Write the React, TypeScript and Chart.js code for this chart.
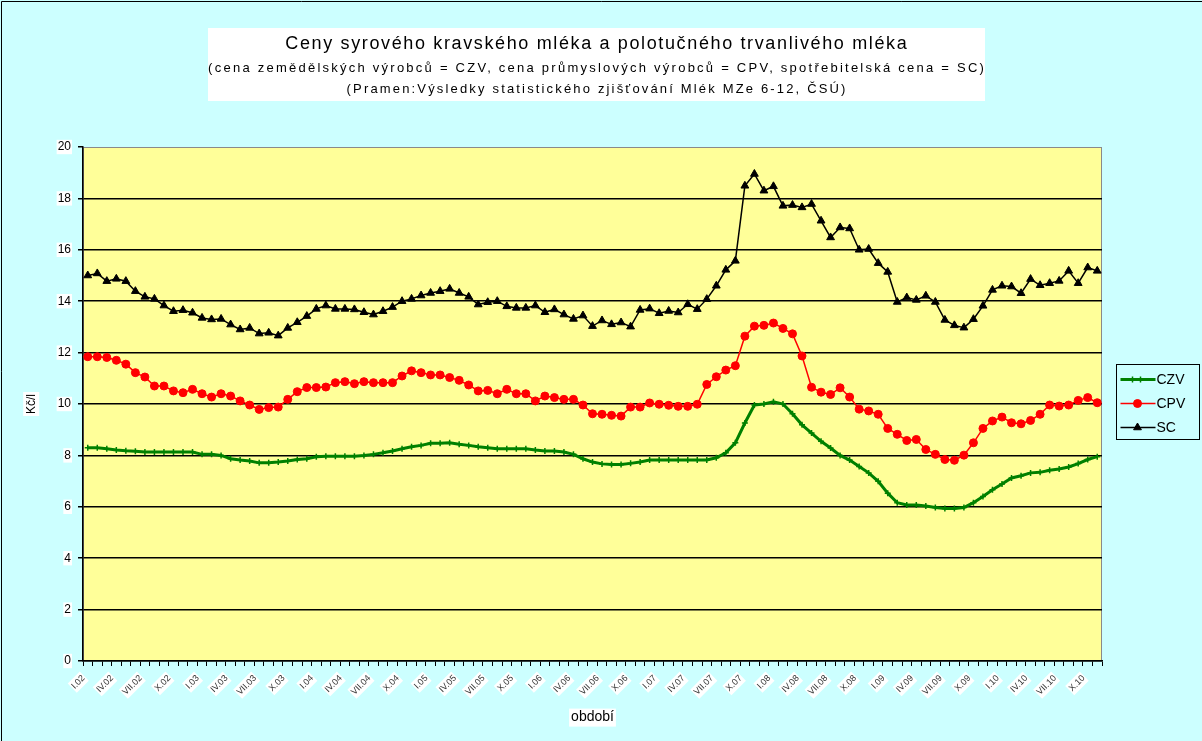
import React, { useEffect, useRef } from 'react';
import { Chart, registerables } from 'chart.js';
import { drawPoint } from 'chart.js/helpers';

Chart.register(...registerables);

const FONT = '"Liberation Sans", Arial, sans-serif';

const MONTHS = ['I', 'II', 'III', 'IV', 'V', 'VI', 'VII', 'VIII', 'IX', 'X', 'XI', 'XII'];
const YEARS = ['02', '03', '04', '05', '06', '07', '08', '09', '10'];
const PERIOD_COUNT = 107; // I.02 .. XI.10
const PERIODS = YEARS.flatMap((y) => MONTHS.map((m) => `${m}.${y}`)).slice(0, PERIOD_COUNT);

const CZV = [
  8.3, 8.3, 8.26, 8.21, 8.18, 8.16, 8.13, 8.13, 8.13, 8.13, 8.13, 8.13,
  8.04, 8.04, 8.0, 7.87, 7.82, 7.78, 7.71, 7.71, 7.74, 7.78, 7.84, 7.87,
  7.95, 7.97, 7.97, 7.97, 7.97, 8.0, 8.04, 8.1, 8.17, 8.26, 8.34, 8.39,
  8.47, 8.47, 8.49, 8.43, 8.39, 8.34, 8.3, 8.26, 8.26, 8.26, 8.26, 8.21,
  8.17, 8.17, 8.13, 8.04, 7.87, 7.74, 7.67, 7.65, 7.65, 7.69, 7.74, 7.82,
  7.82, 7.82, 7.82, 7.82, 7.82, 7.82, 7.91, 8.1, 8.49, 9.26, 9.96, 10.0,
  10.09, 10.0, 9.62, 9.19, 8.87, 8.55, 8.29, 8.0, 7.82, 7.57, 7.32, 6.99,
  6.53, 6.16, 6.07, 6.07, 6.03, 5.97, 5.93, 5.93, 5.97, 6.16, 6.4, 6.66,
  6.89, 7.12, 7.21, 7.32, 7.34, 7.42, 7.47, 7.55, 7.68, 7.84, 7.95,
];

const CPV = [
  11.84, 11.84, 11.81, 11.7, 11.55, 11.22, 11.05, 10.7, 10.7, 10.51, 10.44, 10.57,
  10.4, 10.27, 10.4, 10.31, 10.12, 9.96, 9.79, 9.86, 9.88, 10.18, 10.48, 10.64,
  10.64, 10.66, 10.83, 10.87, 10.79, 10.87, 10.83, 10.83, 10.83, 11.09, 11.29, 11.22,
  11.13, 11.13, 11.03, 10.92, 10.74, 10.51, 10.53, 10.4, 10.57, 10.4, 10.4, 10.12,
  10.31, 10.25, 10.18, 10.18, 9.96, 9.62, 9.6, 9.56, 9.53, 9.88, 9.88, 10.04,
  9.99, 9.95, 9.91, 9.91, 9.99, 10.76, 11.06, 11.32, 11.49, 12.64, 13.03, 13.06,
  13.15, 12.94, 12.73, 11.87, 10.65, 10.46, 10.37, 10.63, 10.27, 9.8, 9.73, 9.6,
  9.05, 8.82, 8.58, 8.62, 8.23, 8.04, 7.84, 7.81, 8.01, 8.49, 9.05, 9.34,
  9.49, 9.27, 9.23, 9.36, 9.6, 9.96, 9.92, 9.96, 10.14, 10.25, 10.05,
];

const SC = [
  15.0, 15.08, 14.78, 14.87, 14.78, 14.39, 14.17, 14.09, 13.83, 13.61, 13.65, 13.55,
  13.35, 13.29, 13.31, 13.09, 12.9, 12.96, 12.74, 12.77, 12.66, 12.96, 13.18, 13.42,
  13.7, 13.83, 13.7, 13.7, 13.68, 13.57, 13.48, 13.61, 13.77, 14.0, 14.09, 14.22,
  14.32, 14.39, 14.48, 14.32, 14.17, 13.87, 13.96, 14.0, 13.8, 13.74, 13.74, 13.83,
  13.57, 13.68, 13.48, 13.31, 13.44, 13.03, 13.25, 13.1, 13.17, 13.01, 13.66, 13.71,
  13.53, 13.62, 13.56, 13.88, 13.69, 14.08, 14.6, 15.22, 15.57, 18.49, 18.95, 18.3,
  18.47, 17.71, 17.74, 17.65, 17.78, 17.13, 16.48, 16.87, 16.83, 16.0, 16.03, 15.48,
  15.14, 13.97, 14.14, 14.05, 14.21, 13.97, 13.27, 13.06, 12.97, 13.3, 13.82, 14.44,
  14.6, 14.57, 14.31, 14.86, 14.62, 14.7, 14.79, 15.18, 14.7, 15.31, 15.18,
];

const SERIES_NAMES = ['CZV', 'CPV', 'SC'];
const TITLE_LINES = [
  'Ceny syrového kravského mléka a polotučného trvanlivého mléka',
  '(cena zemědělských výrobců = CZV, cena průmyslových výrobců = CPV, spotřebitelská cena = SC)',
  '(Pramen:Výsledky statistického zjišťování Mlék MZe 6-12, ČSÚ)',
];
const X_TITLE = 'období';
const Y_TITLE = 'Kč/l';
const Y_MIN = 0;
const Y_MAX = 20;
const Y_STEP = 2;
const LABEL_EVERY = 3;

const BG = '#CCFFFF';
const PLOT_BG = '#FFFF99';

function fitText(ctx: CanvasRenderingContext2D, text: string, cx: number, cy: number, font: string, target: number) {
  ctx.font = font;
  (ctx as any).letterSpacing = '0px';
  const w = ctx.measureText(text).width;
  const ls = Math.max(0, (target - w) / text.length);
  (ctx as any).letterSpacing = ls + 'px';
  ctx.textAlign = 'center';
  ctx.textBaseline = 'middle';
  ctx.fillText(text, cx + ls / 2, cy);
  (ctx as any).letterSpacing = '0px';
}

const decorPlugin = {
  id: 'decor',
  beforeDraw(chart: any) {
    const { ctx, chartArea: ca, width, height } = chart;
    ctx.save();
    ctx.fillStyle = BG;
    ctx.fillRect(0, 0, width, height);
    ctx.strokeStyle = '#000';
    ctx.lineWidth = 1;
    ctx.beginPath();
    ctx.moveTo(1.5, height);
    ctx.lineTo(1.5, 1.5);
    ctx.lineTo(width, 1.5);
    ctx.stroke();

    ctx.fillStyle = PLOT_BG;
    ctx.fillRect(ca.left, ca.top, ca.right - ca.left, ca.bottom - ca.top);
    ctx.strokeStyle = '#8a8a8a';
    ctx.strokeRect(ca.left + 0.5, ca.top + 0.5, ca.right - ca.left - 1, ca.bottom - ca.top - 1);

    // title box
    ctx.fillStyle = '#fff';
    ctx.fillRect(208, 28, 777, 73);

    // white boxes behind axis titles
    ctx.font = `14px ${FONT}`;
    const xs = chart.scales.x;
    const xw = ctx.measureText(X_TITLE).width;
    const xcx = (xs.left + xs.right) / 2;
    const xcy = xs.bottom - 8.4 - 4;
    ctx.fillRect(xcx - xw / 2 - 2, xcy - 9, xw + 4, 18);
    ctx.font = `12px ${FONT}`;
    const ys = chart.scales.y;
    const yw = ctx.measureText(Y_TITLE).width;
    const ycx = ys.left + 7.2 + 4;
    const ycy = (ys.top + ys.bottom) / 2;
    ctx.fillRect(ycx - 8, ycy - yw / 2 - 2, 16, yw + 4);
    ctx.restore();
  },
  afterDraw(chart: any) {
    const { ctx, chartArea: ca } = chart;
    ctx.save();
    ctx.fillStyle = '#000';
    fitText(ctx, TITLE_LINES[0], 596, 44, `18px ${FONT}`, 623);
    fitText(ctx, TITLE_LINES[1], 596, 68, `13px ${FONT}`, 778);
    fitText(ctx, TITLE_LINES[2], 596, 89, `13px ${FONT}`, 501);

    // legend
    const lx = ca.right + 14.5;
    const ly = 364.5;
    const lw = 83;
    const lh = 75;
    ctx.fillStyle = BG;
    ctx.fillRect(lx, ly, lw, lh);
    ctx.strokeStyle = '#000';
    ctx.lineWidth = 1;
    ctx.strokeRect(lx, ly, lw, lh);
    chart.data.datasets.forEach((ds: any, i: number) => {
      const y = ly + 15 + i * 24;
      ctx.strokeStyle = ds.borderColor;
      ctx.lineWidth = ds.borderWidth;
      ctx.beginPath();
      ctx.moveTo(lx + 4, y);
      ctx.lineTo(lx + 39, y);
      ctx.stroke();
      ctx.fillStyle = ds.pointBackgroundColor;
      ctx.strokeStyle = ds.pointBorderColor;
      ctx.lineWidth = ds.pointBorderWidth;
      if (ds.pointStyle === 'cross') {
        drawPoint(ctx, { pointStyle: 'cross', radius: ds.pointRadius, rotation: 0, borderWidth: ds.pointBorderWidth }, lx + 16, y);
        drawPoint(ctx, { pointStyle: 'cross', radius: ds.pointRadius, rotation: 0, borderWidth: ds.pointBorderWidth }, lx + 24, y);
      } else {
        drawPoint(ctx, { pointStyle: ds.pointStyle, radius: ds.pointRadius, rotation: 0, borderWidth: ds.pointBorderWidth }, lx + 21, y);
      }
      ctx.fillStyle = '#000';
      ctx.font = `14px ${FONT}`;
      ctx.textAlign = 'left';
      ctx.textBaseline = 'middle';
      ctx.fillText(ds.label, lx + 40, y + 1);
    });
    ctx.restore();
  },
};

export default function App() {
  const ref = useRef<HTMLCanvasElement>(null);
  useEffect(() => {
    if (!ref.current) return;
    const chart = new Chart(ref.current, {
      type: 'line',
      data: {
        labels: PERIODS,
        datasets: [
          {
            label: SERIES_NAMES[0],
            data: CZV,
            borderColor: '#008000',
            borderWidth: 3,
            pointStyle: 'cross',
            pointRadius: 3,
            pointBorderWidth: 1.5,
            pointBorderColor: '#008000',
            pointBackgroundColor: '#008000',
            tension: 0,
          },
          {
            label: SERIES_NAMES[1],
            data: CPV,
            borderColor: '#FF0000',
            borderWidth: 1.5,
            pointStyle: 'circle',
            pointRadius: 4,
            pointBorderWidth: 1,
            pointBorderColor: '#FF0000',
            pointBackgroundColor: '#FF0000',
            tension: 0,
          },
          {
            label: SERIES_NAMES[2],
            data: SC,
            borderColor: '#000000',
            borderWidth: 1.5,
            pointStyle: 'triangle',
            pointRadius: 4.5,
            pointBorderWidth: 1,
            pointBorderColor: '#000000',
            pointBackgroundColor: '#000000',
            tension: 0,
          },
        ] as any,
      },
      options: {
        responsive: false,
        animation: false,
        devicePixelRatio: 1,
        layout: { padding: { top: 147, right: 100, bottom: 11, left: 20 } },
        plugins: {
          legend: { display: false },
          tooltip: { enabled: false },
          title: { display: false },
        },
        scales: {
          x: {
            type: 'category',
            offset: true,
            ticks: {
              autoSkip: false,
              maxRotation: 45,
              minRotation: 45,
              font: { size: 9, family: FONT },
              color: '#333',
              padding: 7,
              labelOffset: -8,
              showLabelBackdrop: (c: any) => c.index % LABEL_EVERY === 0,
              backdropColor: '#ffffff',
              backdropPadding: 1,
              callback: (_v: any, i: number) => (i % LABEL_EVERY === 0 ? PERIODS[i] : ''),
            } as any,
            grid: {
              display: true,
              drawOnChartArea: false,
              drawTicks: true,
              tickLength: 5,
              color: '#000',
              offset: true,
            },
            border: { color: '#000', width: 1.5 },
            title: {
              display: true,
              text: X_TITLE,
              color: '#000',
              font: { size: 14, family: FONT },
              padding: { top: 0, bottom: 4 },
            },
            afterFit: (s: any) => {
              s.height = 69;
            },
          },
          y: {
            min: Y_MIN,
            max: Y_MAX,
            ticks: {
              stepSize: Y_STEP,
              color: '#000',
              font: { size: 12, family: FONT },
              padding: 7,
              showLabelBackdrop: true,
              backdropColor: '#ffffff',
              backdropPadding: { top: 0, bottom: 0, left: 1, right: 1 },
            } as any,
            grid: {
              color: (c: any) => (c.tick && c.tick.value === Y_MAX ? 'rgba(0,0,0,0)' : '#000'),
              tickColor: '#000',
              lineWidth: 1.5,
              tickLength: 5,
              drawTicks: true,
            },
            border: { color: '#000', width: 1.5 },
            title: {
              display: true,
              text: Y_TITLE,
              color: '#000',
              font: { size: 12, family: FONT },
              padding: { top: 4, bottom: 0 },
            },
            afterFit: (s: any) => {
              s.width = 63;
            },
          },
        },
      },
      plugins: [decorPlugin],
    });
    return () => chart.destroy();
  }, []);

  return (
    <div style={{ position: 'fixed', left: 0, top: 0, width: 1202, height: 741 }}>
      <canvas ref={ref} width={1202} height={741} style={{ display: 'block', width: 1202, height: 741 }} />
    </div>
  );
}
